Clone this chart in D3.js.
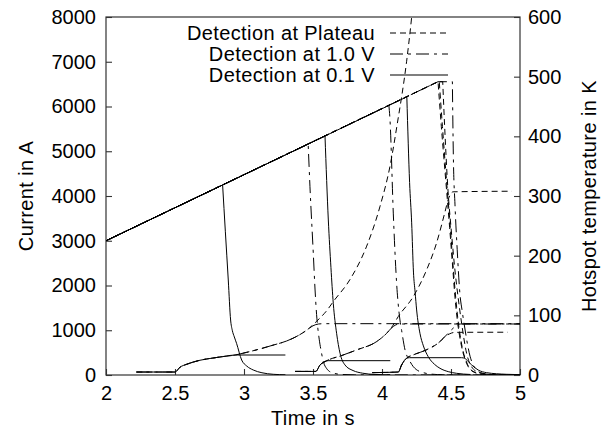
<!DOCTYPE html>
<html>
<head>
<meta charset="utf-8">
<script src="https://cdn.jsdelivr.net/npm/d3@7"></script>
<style>
body { margin: 0; background: #fff; }
svg { display: block; font-family: "Liberation Sans", Arial, sans-serif; }
</style>
</head>
<body>
<script>
// ticks
var timeTicks = [2, 2.5, 3, 3.5, 4, 4.5, 5];
var currentTicks = [0, 1000, 2000, 3000, 4000, 5000, 6000, 7000, 8000];
var tempTicks = [0, 100, 200, 300, 400, 500, 600];
var detections = ["Detection at Plateau", "Detection at 1.0 V", "Detection at 0.1 V"];

// current ramp (shared by every run until detection), [t, A]
var ramp = [[2.0, 3000], [4.406, 6554]];

// current after detection, [t, A]
var curA01 = [[2.845, 4246], [2.865, 3200], [2.886, 2123], [2.903, 1229], [2.915, 1000], [2.93, 850], [2.946, 708], [2.983, 335], [3.02, 200], [3.067, 112], [3.13, 50], [3.212, 16], [3.3, 5]];
var curA10 = [[3.465, 5161], [3.478, 4208], [3.502, 2726], [3.515, 1900], [3.526, 1350], [3.545, 800], [3.56, 520], [3.575, 300], [3.6, 140], [3.64, 50], [3.7, 15], [3.8, 3], [5.0, 0]];
var curAPl = [[4.406, 6554], [4.43, 5550], [4.466, 4200], [4.49, 3300], [4.51, 2500], [4.53, 1700], [4.545, 1250], [4.577, 632], [4.613, 261], [4.66, 74], [4.73, 15], [4.94, 0]];
var curB01 = [[3.587, 5341], [3.611, 3464], [3.63, 2400], [3.647, 1600], [3.671, 932], [3.696, 485], [3.732, 223], [3.79, 100], [3.86, 40], [3.95, 12], [4.06, 3]];
var curB10 = [[4.05, 6024], [4.058, 5700], [4.082, 3600], [4.106, 2049], [4.13, 1229], [4.142, 1000], [4.167, 559], [4.2, 320], [4.227, 186], [4.3, 51], [4.4, 10], [4.55, 0], [5.0, 0]];
var curBPl = [[4.415, 6554], [4.438, 5550], [4.47, 4250], [4.495, 3300], [4.515, 2450], [4.535, 1700], [4.55, 1250], [4.58, 640], [4.615, 270], [4.66, 80], [4.73, 15], [4.94, 0]];
var curC01 = [[4.18, 6216], [4.2, 4300], [4.215, 3400], [4.228, 2300], [4.24, 1850], [4.251, 1453], [4.275, 932], [4.3, 650], [4.335, 409], [4.38, 240], [4.42, 150], [4.48, 75], [4.54, 38], [4.64, 12]];
var curC10 = [[4.51, 6554], [4.517, 4900], [4.529, 3800], [4.545, 2800], [4.565, 1800], [4.58, 1450], [4.6, 1050], [4.62, 680], [4.638, 420], [4.66, 230], [4.686, 112], [4.73, 35], [4.8, 8], [5.0, 0]];
var curCPl = [[4.44, 6554], [4.454, 5550], [4.478, 4134], [4.5, 3300], [4.53, 2300], [4.553, 1700], [4.577, 1155], [4.613, 485], [4.65, 180], [4.7, 60], [4.8, 10], [4.94, 0]];

// hotspot temperature, [t, K]
var tempRiseA = [[2.22, 5], [2.5, 5], [2.536, 13], [2.585, 18], [2.681, 24.7], [2.78, 28.6], [2.845, 30.8]];
var tempA01 = [[2.9, 32.8], [2.95, 33.5], [3.3, 33.5]];
var tempMidA = [[2.923, 33], [3.02, 38], [3.116, 43.7], [3.21, 50], [3.309, 57], [3.4, 67], [3.46, 76]];
var tempA10 = [[3.5, 82.5], [3.54, 85.5], [3.58, 86], [5.0, 86]];
var tempAPl = [[3.526, 90], [3.6, 108], [3.647, 123], [3.768, 160], [3.889, 216], [3.986, 283], [4.058, 350], [4.11, 420], [4.178, 525], [4.215, 600], [4.24, 660]];

var tempRiseB = [[3.37, 6], [3.52, 6], [3.551, 16.8], [3.587, 22.5]];
var tempB01 = [[3.61, 24], [4.06, 24]];
var tempMidB = [[3.623, 26.4], [3.7, 32], [3.816, 42], [3.961, 56], [4.034, 70]];
var tempB10 = [[4.07, 79], [4.1, 84], [4.13, 85.5], [5.0, 85.5]];
var tempBPl = [[4.07, 80], [4.118, 98], [4.227, 131.6], [4.323, 176], [4.395, 221], [4.455, 272], [4.48, 294], [4.515, 307], [4.94, 308]];

var tempRiseC = [[3.93, 4], [4.118, 5], [4.142, 16.8], [4.178, 28]];
var tempC01 = [[4.2, 29], [4.576, 29], [4.6, 28], [4.625, 22.4], [4.65, 16.8], [4.697, 8.4], [4.758, 3.9], [4.9, 1.2], [5.0, 0.6]];
var tempMidC = [[4.226, 33.6], [4.32, 42], [4.42, 56]];
var tempC10 = [[4.467, 67], [4.53, 81], [4.57, 85.5], [5.0, 85.5]];
var tempCPl = [[4.45, 63], [4.49, 69], [4.53, 71.5], [4.91, 71.7]];

// line styles per detection type
var dashes = ["6,4", "13,5,3,5", null];

var width = 607, height = 432;
var plotL = 106, plotR = 520, plotT = 17, plotB = 375;

var svg = d3.select('body').append('svg')
    .attr('width', width)
    .attr('height', height);

var x = d3.scaleLinear().domain([2, 5]).range([plotL, plotR]);
var yI = d3.scaleLinear().domain([0, 8000]).range([plotB, plotT]);
var yT = d3.scaleLinear().domain([0, 600]).range([plotB, plotT]);

svg.append('clipPath').attr('id', 'plot')
    .append('rect')
    .attr('x', plotL).attr('y', plotT)
    .attr('width', plotR - plotL).attr('height', plotB - plotT);

// axes, ticks inward like gnuplot
function styleAxis(g) {
    g.select('.domain').remove();
    g.selectAll('.tick line').attr('stroke', '#333').attr('stroke-width', 1.1);
    g.selectAll('.tick text').attr('fill', '#000').style('font-size', '20px')
        .style('font-family', '"Liberation Sans", Arial, sans-serif');
}
svg.append('g').attr('transform', 'translate(0,' + plotB + ')')
    .call(d3.axisBottom(x).tickValues(timeTicks).tickSize(-6).tickPadding(11).tickFormat(d3.format('')))
    .call(styleAxis);
svg.append('g').attr('transform', 'translate(' + plotL + ',0)')
    .call(d3.axisLeft(yI).tickValues(currentTicks).tickSize(-6).tickPadding(10).tickFormat(d3.format('')))
    .call(styleAxis);
svg.append('g').attr('transform', 'translate(' + plotR + ',0)')
    .call(d3.axisRight(yT).tickValues(tempTicks).tickSize(-6).tickPadding(8).tickFormat(d3.format('')))
    .call(styleAxis);

svg.append('rect')
    .attr('x', plotL).attr('y', plotT)
    .attr('width', plotR - plotL).attr('height', plotB - plotT)
    .attr('fill', 'none').attr('stroke', '#333').attr('stroke-width', 1.2);

var plot = svg.append('g').attr('clip-path', 'url(#plot)');

var straight = d3.line().x(function(d) { return x(d[0]); });
var smooth = d3.line().x(function(d) { return x(d[0]); }).curve(d3.curveMonotoneX);

// current: straight ramp up to detection, then smooth decay
function currentPath(decay) {
    var head = ramp.filter(function(p) { return p[0] < decay[0][0]; }).concat([decay[0]]);
    var a = straight.y(function(d) { return yI(d[1]); })(head);
    var b = smooth.y(function(d) { return yI(d[1]); })(decay);
    return a + b.replace(/^M[^CL]*/, '');
}
function tempPath(pts) {
    return smooth.y(function(d) { return yT(d[1]); })(pts);
}

var currents = [
    [curA01, 2], [curA10, 1], [curAPl, 0],
    [curB01, 2], [curB10, 1], [curBPl, 0],
    [curC01, 2], [curC10, 1], [curCPl, 0]
];
var temps = [
    [tempRiseA.concat(tempA01), 2],
    [tempRiseA.concat(tempMidA, tempA10), 1],
    [tempRiseA.concat(tempMidA, tempAPl), 0],
    [tempRiseB.concat(tempB01), 2],
    [tempRiseB.concat(tempMidB, tempB10), 1],
    [tempRiseB.concat(tempMidB, tempBPl), 0],
    [tempRiseC.concat(tempC01), 2],
    [tempRiseC.concat(tempMidC, tempC10), 1],
    [tempRiseC.concat(tempMidC, tempCPl), 0]
];

plot.selectAll('path.cur').data(currents).enter().append('path')
    .attr('class', 'cur')
    .attr('d', function(d) { return currentPath(d[0]); })
    .attr('fill', 'none').attr('stroke', '#000').attr('stroke-width', 1)
    .attr('stroke-dasharray', function(d) { return dashes[d[1]]; });

plot.selectAll('path.temp').data(temps).enter().append('path')
    .attr('class', 'temp')
    .attr('d', function(d) { return tempPath(d[0]); })
    .attr('fill', 'none').attr('stroke', '#000').attr('stroke-width', 1)
    .attr('stroke-dasharray', function(d) { return dashes[d[1]]; });

// legend
var rowY = [33, 54, 75];
var key = svg.append('g');
key.selectAll('text').data(detections).enter().append('text')
    .attr('x', 375).attr('y', function(d, i) { return rowY[i]; })
    .attr('dy', '0.35em').attr('text-anchor', 'end')
    .style('font-size', '20px').style('letter-spacing', '0.4px')
    .text(function(d) { return d; });
key.selectAll('line').data(detections).enter().append('line')
    .attr('x1', 390).attr('x2', 448)
    .attr('y1', function(d, i) { return rowY[i]; })
    .attr('y2', function(d, i) { return rowY[i]; })
    .attr('stroke', '#000').attr('stroke-width', 1.1)
    .attr('stroke-dasharray', function(d, i) { return dashes[i]; });

// axis titles
svg.append('text').attr('x', (plotL + plotR) / 2).attr('y', 425)
    .attr('text-anchor', 'middle').style('font-size', '20px').style('letter-spacing', '0.4px')
    .text('Time in s');
svg.append('text').attr('transform', 'translate(33,196) rotate(-90)')
    .attr('text-anchor', 'middle').style('font-size', '20px').style('letter-spacing', '0.4px')
    .text('Current in A');
svg.append('text').attr('transform', 'translate(596,196) rotate(-90)')
    .attr('text-anchor', 'middle').style('font-size', '20px').style('letter-spacing', '0.4px')
    .text('Hotspot temperature in K');
</script>
</body>
</html>
